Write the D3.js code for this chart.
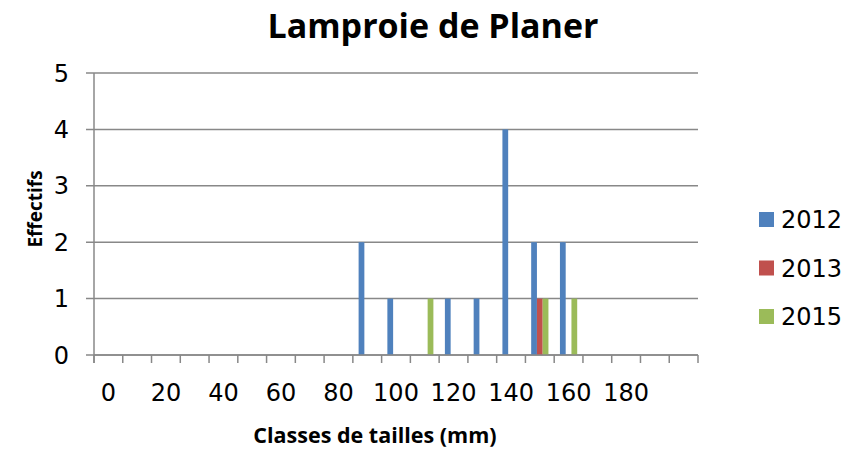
<!DOCTYPE html>
<html>
<head>
<meta charset="UTF-8" />
<title>Lamproie de Planer</title>
<script src="https://d3js.org/d3.v7.min.js"></script>
<style type="text/css">
body {
    margin: 0;
    background-color: #fff;
}

.title, .axis-title {
    font-family: "Open Sans", sans-serif;
    font-weight: bold;
    fill: #000;
}

.tick-label, .legend text {
    font-family: "DejaVu Sans", Verdana, sans-serif;
    font-size: 24px;
    fill: #000;
}

.grid line, .axis-line, .xticks line {
    stroke: #888;
    stroke-width: 1.5px;
}
</style>
</head>
<body>
<svg id="chart" width="849" height="450"></svg>

<script type="text/javascript">
// classes de tailles (mm), une par colonne
var categories = [0, 10, 20, 30, 40, 50, 60, 70, 80, 90, 100, 110, 120, 130, 140, 150, 160, 170, 180, 190, 200];
var tickLabels = [0, 20, 40, 60, 80, 100, 120, 140, 160, 180];
var yTicks = [0, 1, 2, 3, 4, 5];

var series = ["2012", "2013", "2015"];
var colors = ["#4f81bd", "#c0504d", "#9bbb59"];

var values2012 = [0, 0, 0, 0, 0, 0, 0, 0, 0, 2, 1, 0, 1, 1, 4, 2, 2, 0, 0, 0, 0];
var values2013 = [0, 0, 0, 0, 0, 0, 0, 0, 0, 0, 0, 0, 0, 0, 0, 1, 0, 0, 0, 0, 0];
var values2015 = [0, 0, 0, 0, 0, 0, 0, 0, 0, 0, 0, 1, 0, 0, 0, 1, 1, 0, 0, 0, 0];

var svg = d3.select("#chart");

// pas de "top" ici : window.top est en lecture seule
var plotLeft = 94, plotRight = 698, plotTop = 73, plotBottom = 355;

var x = d3.scaleBand().domain(categories).range([plotLeft, plotRight]).padding(0);
var xs = d3.scaleBand().domain(series).range([0, x.bandwidth()]).paddingOuter(1);
var y = d3.scaleLinear().domain([0, 5]).range([plotBottom, plotTop]);

var rows = [];
var allValues = [values2012, values2013, values2015];
categories.forEach(function(c, i) {
    series.forEach(function(s, j) {
        rows.push({cat: c, serie: s, color: colors[j], value: allValues[j][i]});
    });
});

// grille horizontale
svg.append("g").attr("class", "grid").selectAll("line").data(yTicks)
    .enter().append("line")
    .attr("x1", plotLeft - 8).attr("x2", plotRight)
    .attr("y1", function(d) { return y(d); })
    .attr("y2", function(d) { return y(d); });

svg.append("g").selectAll("text").data(yTicks)
    .enter().append("text")
    .attr("class", "tick-label")
    .attr("x", 69)
    .attr("y", function(d) { return y(d); })
    .attr("dy", "0.36em")
    .attr("text-anchor", "end")
    .text(function(d) { return d; });

// axe vertical
svg.append("line").attr("class", "axis-line")
    .attr("x1", plotLeft).attr("x2", plotLeft)
    .attr("y1", y(5)).attr("y2", plotBottom + 8);

// barres
svg.append("g").selectAll("rect").data(rows.filter(function(d) { return d.value > 0; }))
    .enter().append("rect")
    .attr("x", function(d) { return x(d.cat) + xs(d.serie); })
    .attr("width", xs.bandwidth())
    .attr("y", function(d) { return y(d.value); })
    .attr("height", function(d) { return y(0) - y(d.value); })
    .attr("fill", function(d) { return d.color; });

// axe horizontal, graduations entre les classes
svg.append("line").attr("class", "axis-line")
    .attr("x1", plotLeft).attr("x2", plotRight)
    .attr("y1", plotBottom).attr("y2", plotBottom);

var edges = categories.map(function(c) { return x(c); }).concat([plotRight]);
svg.append("g").attr("class", "xticks").selectAll("line").data(edges)
    .enter().append("line")
    .attr("x1", function(d) { return d; }).attr("x2", function(d) { return d; })
    .attr("y1", plotBottom).attr("y2", plotBottom + 8);

svg.append("g").selectAll("text").data(tickLabels)
    .enter().append("text")
    .attr("class", "tick-label")
    .attr("x", function(d) { return x(d) + x.bandwidth() / 2; })
    .attr("y", 401)
    .attr("text-anchor", "middle")
    .text(function(d) { return d; });

// titres
svg.append("text").attr("class", "title")
    .attr("x", 433).attr("y", 38)
    .attr("text-anchor", "middle")
    .style("font-size", "34px")
    .text("Lamproie de Planer");

svg.append("text").attr("class", "axis-title")
    .attr("x", 375).attr("y", 443)
    .attr("text-anchor", "middle")
    .style("font-size", "21.5px")
    .text("Classes de tailles (mm)");

svg.append("text").attr("class", "axis-title")
    .attr("transform", "translate(42,209) rotate(-90)")
    .attr("text-anchor", "middle")
    .style("font-size", "19px")
    .text("Effectifs");

// légende
var legend = svg.append("g").attr("class", "legend").selectAll("g").data(series)
    .enter().append("g")
    .attr("transform", function(d, i) { return "translate(759," + (212 + i * 48.5) + ")"; });

legend.append("rect").attr("width", 15).attr("height", 15)
    .attr("fill", function(d, i) { return colors[i]; });

legend.append("text").attr("x", 22).attr("y", 16).text(function(d) { return d; });
</script>
</body>
</html>
